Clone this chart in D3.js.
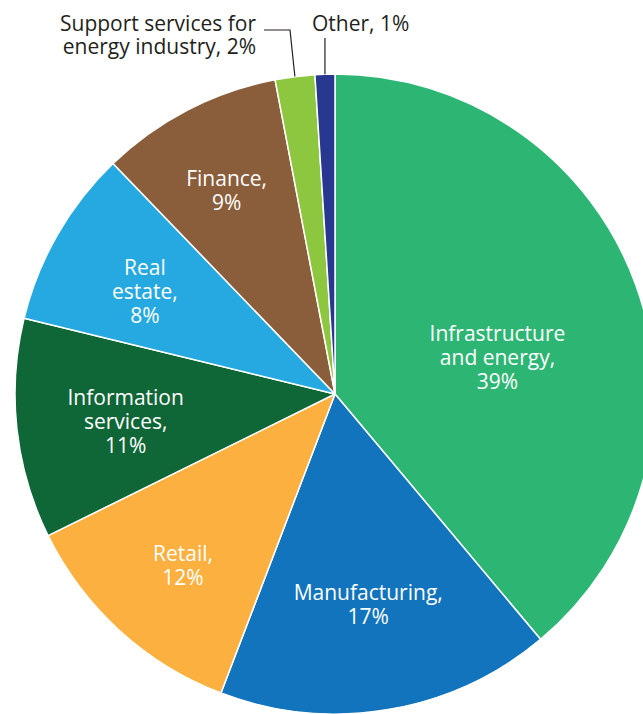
<!DOCTYPE html>
<html>
<head>
<meta charset="utf-8">
<script src="https://cdn.jsdelivr.net/npm/d3@7"></script>
<style>
    body { margin: 0; background: #fff; }
    .sliceLabel { font-family: "Open Sans", sans-serif; font-size: 21px; fill: #fff; }
    .outLabel { font-family: "Open Sans", sans-serif; font-size: 21px; fill: #231f20; }
    .leader { fill: none; stroke: #231f20; stroke-width: 1.2; }
</style>
</head>
<body>
<script>
//sector shares, clockwise from 12 o'clock
var sectors = ["Infrastructure and energy", "Manufacturing", "Retail", "Information services",
    "Real estate", "Finance", "Support services for energy industry", "Other"];
var shares = [38.9, 16.9, 11.9, 11.1, 9.0, 9.2, 2.0, 1.0];
var shareLabels = ["39%", "17%", "12%", "11%", "8%", "9%", "2%", "1%"];
var colors = ["#2db673", "#1174bc", "#fbb040", "#0f6637", "#25a9e0", "#8a5d3b", "#8dc63f", "#283891"];

//how each label is broken into lines (last line gets the share)
var labelLines = [
    ["Infrastructure", "and energy,"],
    ["Manufacturing,"],
    ["Retail,"],
    ["Information", "services,"],
    ["Real", "estate,"],
    ["Finance,"],
    ["Support services for", "energy industry,"],
    ["Other,"]
];

(function(){

var width = 643,
    height = 714,
    cx = 335,
    cy = 394,
    radius = 320,
    lineH = 24;

//label placement inside slices: fraction of radius and small turn in degrees
var labelRadius = [0.52, 0.667, 0.717, 0.66, 0.674, 0.72];
var labelTurn = [7.5, 0.6, -0.8, -1.3, -1.7, -0.7];

var svg = d3.select("body")
    .append("svg")
    .attr("width", width)
    .attr("height", height);

var g = svg.append("g")
    .attr("transform", "translate(" + cx + "," + cy + ")");

var pie = d3.pie().sort(null).value(function(d){ return d; });
var arcs = pie(shares);

var arc = d3.arc().innerRadius(0).outerRadius(radius);

g.selectAll(".slice")
    .data(arcs)
    .enter()
    .append("path")
    .attr("class", "slice")
    .attr("d", arc)
    .style("fill", function(d, i){ return colors[i]; })
    .style("stroke", "#fff")
    .style("stroke-width", 1.5)
    .style("stroke-linejoin", "round");

function polar(angle, r){
    return [r * Math.sin(angle), -r * Math.cos(angle)];
}

//labels inside the big slices
arcs.forEach(function(d, i){
    if (i > 5) return;
    var mid = (d.startAngle + d.endAngle) / 2 + labelTurn[i] * Math.PI / 180;
    var p = polar(mid, radius * labelRadius[i]);
    var lines = labelLines[i].concat([shareLabels[i]]);
    var t = g.append("text")
        .attr("class", "sliceLabel")
        .attr("text-anchor", "middle");
    lines.forEach(function(line, k){
        t.append("tspan")
            .attr("x", p[0])
            .attr("y", p[1] + (k - (lines.length - 1) / 2) * lineH + 7)
            .text(line);
    });
});

//small slices get outside labels with leader lines
var sup = arcs[6],
    supEdge = polar((sup.startAngle + sup.endAngle) / 2, radius);
g.append("path")
    .attr("class", "leader")
    .attr("d", d3.line()([[supEdge[0], supEdge[1]], [-45, -364], [-71, -364]]));

var supText = svg.append("text")
    .attr("class", "outLabel")
    .attr("text-anchor", "end");
supText.append("tspan").attr("x", 256).attr("y", 31).text(labelLines[6][0]);
supText.append("tspan").attr("x", 256).attr("y", 54).text(labelLines[6][1] + " " + shareLabels[6]);

var oth = arcs[7],
    othEdge = polar((oth.startAngle + oth.endAngle) / 2, radius);
g.append("path")
    .attr("class", "leader")
    .attr("d", d3.line()([[othEdge[0], othEdge[1]], [othEdge[0], -356]]));

svg.append("text")
    .attr("class", "outLabel")
    .attr("x", 312)
    .attr("y", 31)
    .text(labelLines[7][0] + " " + shareLabels[7]);

})();
</script>
</body>
</html>
